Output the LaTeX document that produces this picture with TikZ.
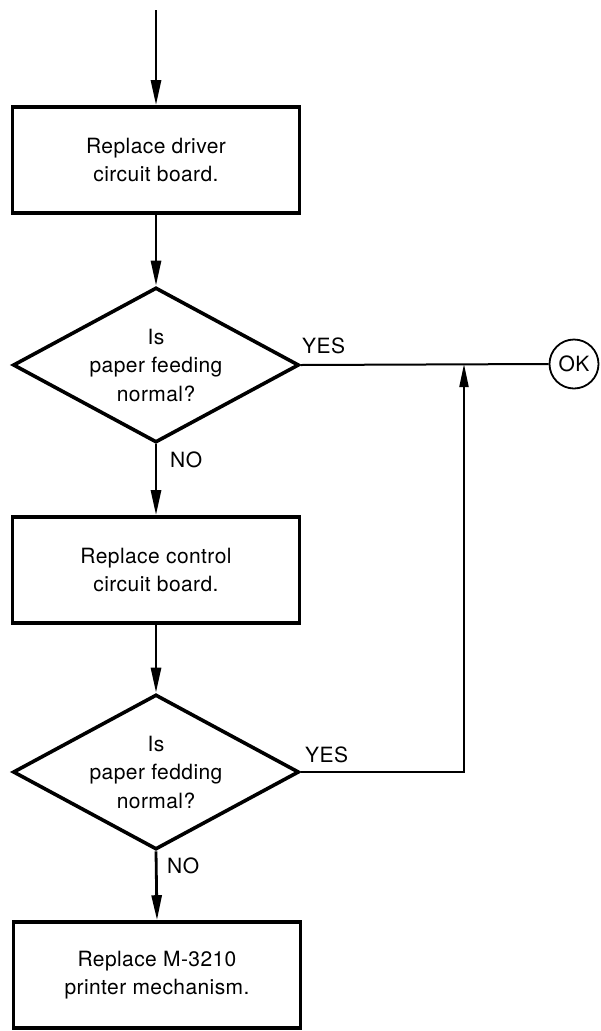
\documentclass[tikz,border=0pt]{standalone}
\usepackage{fontspec}
\setmainfont{TeX Gyre Heros}[LetterSpace=2]
\usetikzlibrary{arrows.meta,shapes.geometric}

\tikzset{
  txt/.style={font=\fontsize{21}{28.5}\selectfont, align=center},
  procbox/.style={txt, draw, line width=3.6pt, minimum width=287pt, minimum height=106pt, inner sep=0pt},
  decision/.style={txt, draw, diamond, aspect=1.85, line width=3.6pt, minimum width=286pt, minimum height=155pt, inner sep=0pt},
  lbl/.style={font=\fontsize{21}{21}\selectfont, inner sep=0pt, anchor=base west},
  flow/.style={line width=2.8pt, -{Triangle[length=25pt,width=10pt]}},
  back/.style={line width=2pt, -{Triangle[length=23pt,width=9pt]}},
}

\begin{document}
\begin{tikzpicture}[x=1pt,y=-1pt]
\useasboundingbox (0,0) rectangle (601,1031);
% main column
\coordinate (start) at (156,10);
\node[procbox] (driver) at (156,160) {Replace driver\\circuit board.};
\node[decision] (feed1) at (156,365) {Is\\paper feeding\\normal?};
\node[procbox] (control) at (156,570) {Replace control\\circuit board.};
\node[decision] (feed2) at (156,772) {Is\\paper fedding\\normal?};
\node[procbox] (mech) at (157,975) {Replace M-3210\\printer mechanism.};
% exit
\node[txt, draw, circle, line width=1.8pt, minimum size=49pt, inner sep=0pt] (ok) at (574,364) {OK};
\coordinate (join) at (464,364);
% labels
\node[lbl] (yes1) at (302,353) {YES};
\node[lbl] (no1) at (170,467) {NO};
\node[lbl] (yes2) at (305,762) {YES};
\node[lbl] (no2) at (167,873) {NO};
% connectors
\draw[flow] (start) -- (driver.north);
\draw[flow] (driver.south) -- (feed1.north);
\draw[flow] (feed1.south) -- (control.north);
\draw[flow] (control.south) -- (feed2.north);
\draw[flow] (feed2.south) -- (mech.north);
\draw[line width=2pt] (feed1.east) -- (ok.west);
\draw[back] (feed2.east) -| (join);
\end{tikzpicture}
\end{document}
